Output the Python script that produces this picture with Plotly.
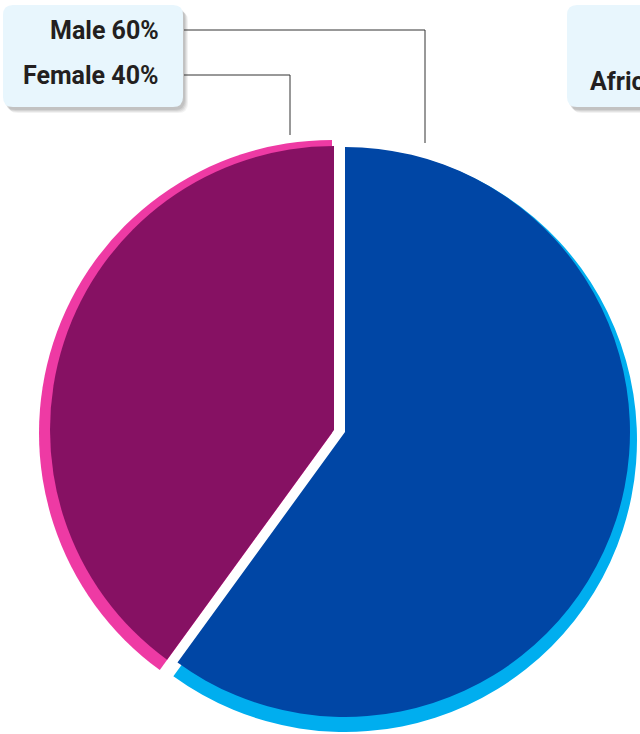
import plotly.graph_objects as go

# ---- data ----
categories = ["Male", "Female"]
shares = [60, 40]
label_texts = ["Male 60%", "Female 40%"]
other_box_text = "Africa"

W, H = 640, 734
DARK = {"Male": "#0046A5", "Female": "#861163"}
LIGHT = {"Male": "#00AEEF", "Female": "#EE3AA4"}
CLEAR = "rgba(0,0,0,0)"


def px(x):
    return x / W


def py(y):
    return 1 - y / H


def domain(cx, cy, r):
    return dict(x=[px(cx - r), px(cx + r)], y=[py(cy + r), py(cy - r)])


# geometry of each layer (center x, center y, radius in px)
geom = {
    ("Male", "light"): (345, 440, 292),
    ("Female", "light"): (332, 433, 293),
    ("Male", "dark"): (345, 432, 285),
    ("Female", "dark"): (334, 430, 284),
}

fig = go.Figure()
for layer in ["light", "dark"]:
    for i, cat in enumerate(categories):
        cols = [CLEAR] * len(categories)
        cols[i] = (LIGHT if layer == "light" else DARK)[cat]
        cx, cy, r = geom[(cat, layer)]
        fig.add_trace(go.Pie(
            labels=categories, values=shares, sort=False,
            direction="clockwise", rotation=0,
            marker=dict(colors=cols, line=dict(width=0)),
            textinfo="none", hoverinfo="skip", showlegend=False,
            domain=domain(cx, cy, r),
        ))


def rrect(x0, y0, x1, y1, rad):
    pts = (
        f"M {px(x0 + rad)} {py(y0)} L {px(x1 - rad)} {py(y0)} "
        f"Q {px(x1)} {py(y0)} {px(x1)} {py(y0 + rad)} "
        f"L {px(x1)} {py(y1 - rad)} "
        f"Q {px(x1)} {py(y1)} {px(x1 - rad)} {py(y1)} "
        f"L {px(x0 + rad)} {py(y1)} "
        f"Q {px(x0)} {py(y1)} {px(x0)} {py(y1 - rad)} "
        f"L {px(x0)} {py(y0 + rad)} "
        f"Q {px(x0)} {py(y0)} {px(x0 + rad)} {py(y0)} Z"
    )
    return pts


shapes = []
for (x0, y0, x1, y1) in [(3, 5, 183, 107), (567, 5, 760, 107)]:
    # soft shadow
    for k, op in [(6, 0.05), (5, 0.06), (4, 0.07), (3, 0.08)]:
        shapes.append(dict(type="path", xref="paper", yref="paper",
                           path=rrect(x0 + k - 1, y0 + k, x1 + k - 1, y1 + k, 10),
                           fillcolor=f"rgba(0,0,0,{op})", line=dict(width=0),
                           layer="above"))
    shapes.append(dict(type="path", xref="paper", yref="paper",
                       path=rrect(x0, y0, x1, y1, 10),
                       fillcolor="#E8F6FD", line=dict(width=0), layer="above"))

# leader lines
for (yl, xv, yend) in [(30, 425, 143), (75, 290, 135)]:
    shapes.append(dict(type="path", xref="paper", yref="paper",
                       path=f"M {px(184)} {py(yl)} L {px(xv)} {py(yl)} L {px(xv)} {py(yend)}",
                       line=dict(color="#333333", width=1), layer="above"))

annotations = []
for txt, yl in zip(label_texts, [30, 75]):
    annotations.append(dict(text=txt, x=px(161), y=py(yl), xref="paper", yref="paper",
                            xanchor="right", yanchor="middle", showarrow=False,
                            font=dict(family="Roboto", size=25, color="#231F20", weight="bold")))
annotations.append(dict(text=other_box_text, x=px(588), y=py(82), xref="paper", yref="paper",
                        xanchor="left", yanchor="middle", showarrow=False,
                        font=dict(family="Roboto", size=25, color="#231F20", weight="bold")))

fig.update_layout(
    width=W, height=H,
    margin=dict(l=0, r=0, t=0, b=0),
    paper_bgcolor="white", plot_bgcolor="white",
    shapes=shapes, annotations=annotations,
)

fig.write_html("out.html", config={"displayModeBar": False},
               post_script="document.body.style.margin='0';document.body.style.overflow='hidden';")
